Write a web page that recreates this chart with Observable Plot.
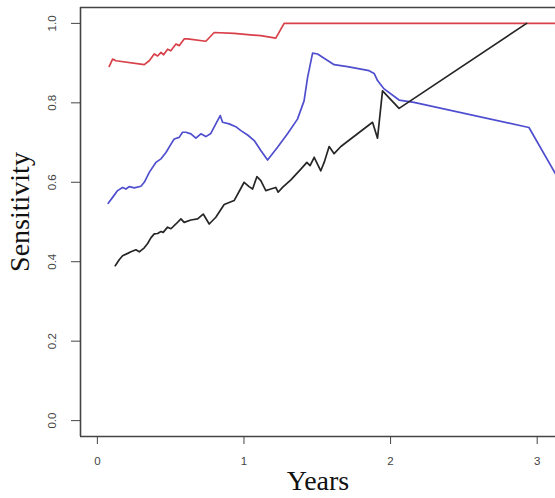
<!DOCTYPE html>
<html>
<head>
<meta charset="utf-8">
<script src="https://cdn.jsdelivr.net/npm/d3@7"></script>
<script src="https://cdn.jsdelivr.net/npm/@observablehq/plot@0.6"></script>
<style>
  html, body { margin: 0; padding: 0; background: #fff; }
  #chart svg { display: block; }
  #chart g[aria-label="x-axis label"] text { font-family: "Liberation Serif", "Times New Roman", serif; font-size: 28px; fill: #111; }
</style>
</head>
<body>
<div id="chart"></div>
<script>
// Years and sensitivity values
const redX = [0.081, 0.104, 0.127, 0.320, 0.354, 0.388, 0.411, 0.434, 0.452, 0.479, 0.501, 0.536, 0.558, 0.592, 0.616, 0.740, 0.797, 0.933, 1.115, 1.217, 1.274, 3.125];
const redY = [0.892, 0.910, 0.906, 0.896, 0.906, 0.923, 0.918, 0.927, 0.921, 0.935, 0.931, 0.948, 0.944, 0.961, 0.961, 0.955, 0.977, 0.975, 0.969, 0.963, 1.000, 1.000];

const blueX = [0.074, 0.104, 0.138, 0.172, 0.195, 0.217, 0.252, 0.297, 0.320, 0.354, 0.399, 0.434, 0.468, 0.502, 0.524, 0.558, 0.581, 0.604, 0.638, 0.672, 0.706, 0.740, 0.774, 0.808, 0.838, 0.854, 0.899, 0.944, 0.979, 1.025, 1.070, 1.115, 1.161, 1.229, 1.297, 1.365, 1.410, 1.434, 1.468, 1.502, 1.615, 1.706, 1.853, 1.888, 1.911, 1.956, 2.058, 2.160, 2.944, 3.125];
const blueY = [0.547, 0.562, 0.579, 0.587, 0.583, 0.589, 0.586, 0.590, 0.600, 0.625, 0.650, 0.659, 0.675, 0.696, 0.709, 0.713, 0.726, 0.726, 0.722, 0.711, 0.722, 0.715, 0.723, 0.747, 0.768, 0.751, 0.747, 0.740, 0.730, 0.719, 0.705, 0.680, 0.656, 0.688, 0.722, 0.759, 0.805, 0.864, 0.925, 0.923, 0.896, 0.891, 0.881, 0.874, 0.856, 0.835, 0.807, 0.801, 0.738, 0.621];

const blackX = [0.122, 0.149, 0.172, 0.207, 0.229, 0.263, 0.286, 0.320, 0.343, 0.365, 0.388, 0.411, 0.434, 0.449, 0.479, 0.502, 0.536, 0.570, 0.592, 0.638, 0.684, 0.722, 0.763, 0.808, 0.865, 0.933, 0.979, 1.001, 1.035, 1.059, 1.088, 1.115, 1.149, 1.183, 1.217, 1.233, 1.263, 1.320, 1.388, 1.429, 1.451, 1.479, 1.524, 1.547, 1.581, 1.615, 1.661, 1.877, 1.911, 1.945, 2.058, 2.928];
const blackY = [0.390, 0.405, 0.415, 0.421, 0.425, 0.430, 0.425, 0.435, 0.446, 0.460, 0.470, 0.471, 0.476, 0.474, 0.487, 0.483, 0.495, 0.508, 0.499, 0.505, 0.508, 0.520, 0.495, 0.512, 0.544, 0.554, 0.585, 0.600, 0.589, 0.583, 0.614, 0.604, 0.579, 0.583, 0.587, 0.575, 0.587, 0.606, 0.633, 0.650, 0.642, 0.663, 0.629, 0.650, 0.690, 0.672, 0.690, 0.751, 0.711, 0.830, 0.786, 1.000];

const xTicks = [0, 1, 2, 3];
const yTicks = [0, 0.2, 0.4, 0.6, 0.8, 1.0];
const xDomain = [-0.115, 3.125];
const yDomain = [-0.04, 1.04];
const xTitle = "Years";
const yTitle = "Sensitivity";

const series = [
  {xs: redX, ys: redY, color: "#d8404a"},
  {xs: blueX, ys: blueY, color: "#4e4ecf"},
  {xs: blackX, ys: blackY, color: "#262626"}
];

const chart = Plot.plot({
  width: 555,
  height: 498,
  marginLeft: 80,
  marginRight: 0,
  marginTop: 7,
  marginBottom: 62,
  style: {background: "#fff", fontFamily: "Liberation Sans, Arial, sans-serif"},
  x: {domain: xDomain},
  y: {domain: yDomain},
  marks: [
    Plot.ruleX([xDomain[0]], {stroke: "#444", strokeWidth: 1.6}),
    Plot.ruleY([yDomain[0], yDomain[1]], {stroke: "#444", strokeWidth: 1.6}),
    ...series.map(s => Plot.line(s.xs.map((x, i) => [x, s.ys[i]]), {stroke: s.color, strokeWidth: 1.7, clip: true})),
    Plot.axisX({ticks: xTicks, tickFormat: d3.format("d"), tickSize: 8, tickPadding: 12, fontSize: 11.5, color: "#444",
      label: xTitle, labelAnchor: "center", labelArrow: "none", labelOffset: 53}),
    Plot.axisY({ticks: yTicks, tickFormat: d3.format(".1f"), tickSize: 9, tickPadding: 16, tickRotate: -90, fontSize: 11.5, color: "#444",
      label: null}),
    Plot.text([yTitle], {frameAnchor: "left", textAnchor: "middle", text: d => d, rotate: -90, dx: -60, dy: -10,
      fontFamily: "Liberation Serif, Times New Roman, serif", fontSize: 28, fill: "#111"})
  ]
});
document.getElementById("chart").appendChild(chart);
</script>
</body>
</html>
